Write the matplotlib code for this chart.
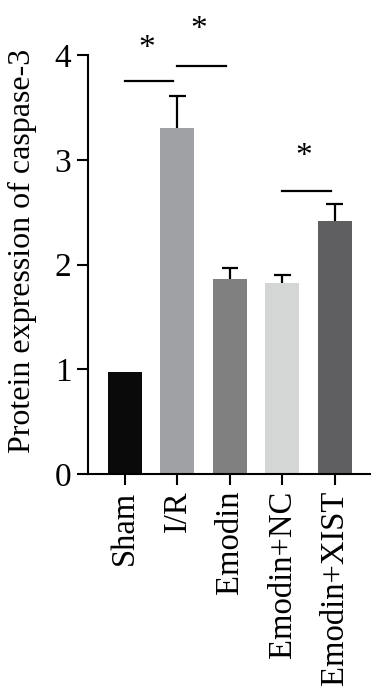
import matplotlib
matplotlib.use("Agg")
import matplotlib.pyplot as plt

categories = ["Sham", "I/R", "Emodin", "Emodin+NC", "Emodin+XIST"]
values = [0.97, 3.30, 1.865, 1.82, 2.42]
errors = [0.0, 0.31, 0.10, 0.08, 0.16]
colors = ["#0a0a0a", "#a0a1a5", "#7f807f", "#d4d5d5", "#5f5f61"]
yticks = [0, 1, 2, 3, 4]
# significance brackets: (x start, x end, line height, star height)
sig_pairs = [(0, 0.92, 3.75, 4.06), (1.0, 1.92, 3.895, 4.24), (3.0, 3.92, 2.70, 3.03)]

plt.rcParams['font.family'] = ['Liberation Serif', 'DejaVu Serif']

fig = plt.figure(figsize=(3.71, 7.0), dpi=100)
ax = fig.add_axes([88/371, 1-474/700, 1-88/371, (474-55)/700])

x = list(range(len(categories)))
ax.bar(x, values, width=0.65, color=colors, zorder=2)
cap = 0.16
for xi, v, e in zip(x, values, errors):
    if e > 0:
        ax.vlines(xi, v, v + e, color='black', lw=1.6, zorder=3)
        ax.hlines(v + e, xi - cap, xi + cap, color='black', lw=1.6, zorder=3)

for x0, x1, yl, ys in sig_pairs:
    ax.plot([x0, x1], [yl, yl], color='black', lw=1.6, clip_on=False)
    ax.text((x0 + x1) / 2 - 0.05, ys, "*", ha='center', va='center', fontsize=24, clip_on=False)

ax.set_xlim(-0.705, 4.69)
ax.set_ylim(0, 4)
ax.set_yticks(yticks)
ax.set_yticklabels([str(t) for t in yticks], fontsize=24)
ax.set_xticks(x)
ax.set_xticklabels(categories, rotation=90, fontsize=23.5)
ax.set_ylabel("Protein expression of caspase-3", fontsize=23)
ax.yaxis.set_label_coords(-0.18, 0.532)

for s in ['top', 'right']:
    ax.spines[s].set_visible(False)
for s in ['left', 'bottom']:
    ax.spines[s].set_linewidth(1.5)
ax.tick_params(axis='both', width=1.5, length=8, direction='out')
ax.tick_params(axis='y', pad=4)
ax.tick_params(axis='x', pad=4)

fig.savefig("out.png", dpi=100)
